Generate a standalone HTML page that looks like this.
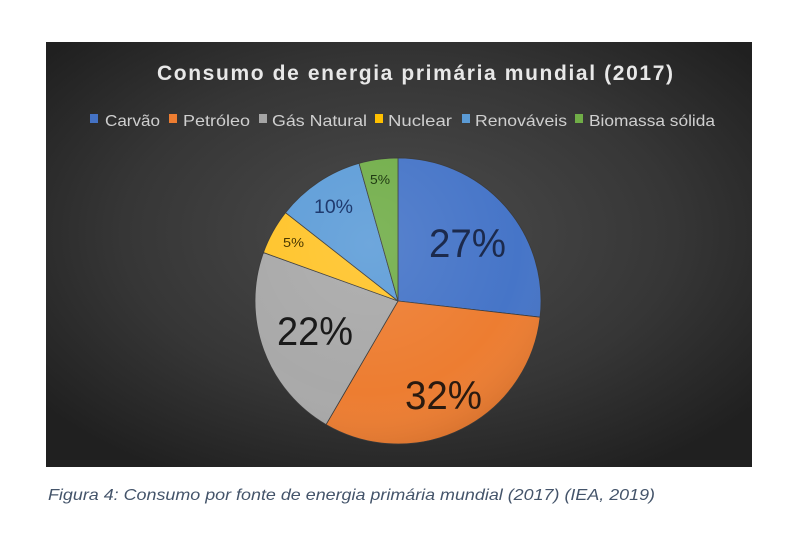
<!DOCTYPE html>
<html>
<head>
<meta charset="utf-8">
<style>
  html, body { margin:0; padding:0; background:#ffffff; }
  body { width:800px; height:537px; overflow:hidden; }
  svg { display:block; }
</style>
</head>
<body>
<svg width="800" height="537" viewBox="0 0 800 537" xmlns="http://www.w3.org/2000/svg">
  <defs>
    <radialGradient id="bg" cx="50%" cy="45%" r="65%">
      <stop offset="0%" stop-color="#4c4c4c"/>
      <stop offset="60%" stop-color="#363636"/>
      <stop offset="100%" stop-color="#202020"/>
    </radialGradient>
    <radialGradient id="gloss" cx="40%" cy="30%" r="75%">
      <stop offset="0%" stop-color="#ffffff" stop-opacity="0.10"/>
      <stop offset="70%" stop-color="#ffffff" stop-opacity="0"/>
      <stop offset="100%" stop-color="#000000" stop-opacity="0.10"/>
    </radialGradient>
  </defs>

  <rect x="0" y="0" width="800" height="537" fill="#ffffff"/>
  <rect x="46" y="42" width="706" height="425" fill="url(#bg)"/>

  <!-- Title -->
  <text x="157" y="80" font-family="Liberation Sans, sans-serif" font-weight="bold" font-size="21" fill="#e8e8e8" textLength="516" lengthAdjust="spacing">Consumo de energia primária mundial (2017)</text>

  <!-- Legend -->
  <g font-family="Liberation Sans, sans-serif" font-size="16" fill="#cfcfcf">
    <rect x="90" y="114" width="8" height="9" fill="#4472C4"/>
    <text x="105" y="126" textLength="55" lengthAdjust="spacingAndGlyphs">Carvão</text>
    <rect x="169" y="114" width="8" height="9" fill="#ED7D31"/>
    <text x="183" y="126" textLength="67" lengthAdjust="spacingAndGlyphs">Petróleo</text>
    <rect x="259" y="114" width="8" height="9" fill="#A5A5A5"/>
    <text x="272" y="126" textLength="95" lengthAdjust="spacingAndGlyphs">Gás Natural</text>
    <rect x="375" y="114" width="8" height="9" fill="#FFC000"/>
    <text x="388" y="126" textLength="64" lengthAdjust="spacingAndGlyphs">Nuclear</text>
    <rect x="462" y="114" width="8" height="9" fill="#5B9BD5"/>
    <text x="475" y="126" textLength="92" lengthAdjust="spacingAndGlyphs">Renováveis</text>
    <rect x="575" y="114" width="8" height="9" fill="#70AD47"/>
    <text x="589" y="126" textLength="126" lengthAdjust="spacingAndGlyphs">Biomassa sólida</text>
  </g>

  <!-- Pie -->
  <g stroke="#3a3a3a" stroke-width="0.8" stroke-linejoin="round">
    <path d="M398,301 L398,158 A143,143 0 0,1 540.08,317.19 Z" fill="#4675C8"/>
    <path d="M398,301 L540.08,317.19 A143,143 0 0,1 326.07,424.59 Z" fill="#ED7D31"/>
    <path d="M398,301 L326.07,424.59 A143,143 0 0,1 263.45,252.56 Z" fill="#A9A9A9"/>
    <path d="M398,301 L263.45,252.56 A143,143 0 0,1 285.57,212.63 Z" fill="#FFC42A"/>
    <path d="M398,301 L285.57,212.63 A143,143 0 0,1 359.06,163.40 Z" fill="#5E9DD8"/>
    <path d="M398,301 L359.06,163.40 A143,143 0 0,1 398,158 Z" fill="#72AE4A"/>
  </g>
  <circle cx="398" cy="301" r="143" fill="url(#gloss)"/>

  <!-- Data labels -->
  <g font-family="Liberation Sans, sans-serif">
    <text x="429" y="257" font-size="40" fill="#1c2a4c" textLength="77" lengthAdjust="spacingAndGlyphs">27%</text>
    <text x="405" y="409" font-size="40" fill="#2a1a10" textLength="77" lengthAdjust="spacingAndGlyphs">32%</text>
    <text x="277" y="345" font-size="40" fill="#1a1a1a" textLength="76" lengthAdjust="spacingAndGlyphs">22%</text>
    <text x="314" y="213" font-size="19" fill="#1f3a6e" textLength="39" lengthAdjust="spacingAndGlyphs">10%</text>
    <text x="283" y="247" font-size="13" fill="#4a3800" textLength="21" lengthAdjust="spacingAndGlyphs">5%</text>
    <text x="370" y="184" font-size="13" fill="#1f3a12" textLength="20" lengthAdjust="spacingAndGlyphs">5%</text>
  </g>

  <!-- Caption -->
  <text x="48" y="500" font-family="Liberation Sans, sans-serif" font-style="italic" font-size="16" fill="#44546A" textLength="607" lengthAdjust="spacingAndGlyphs">Figura 4: Consumo por fonte de energia primária mundial (2017) (IEA, 2019)</text>
</svg>
</body>
</html>
